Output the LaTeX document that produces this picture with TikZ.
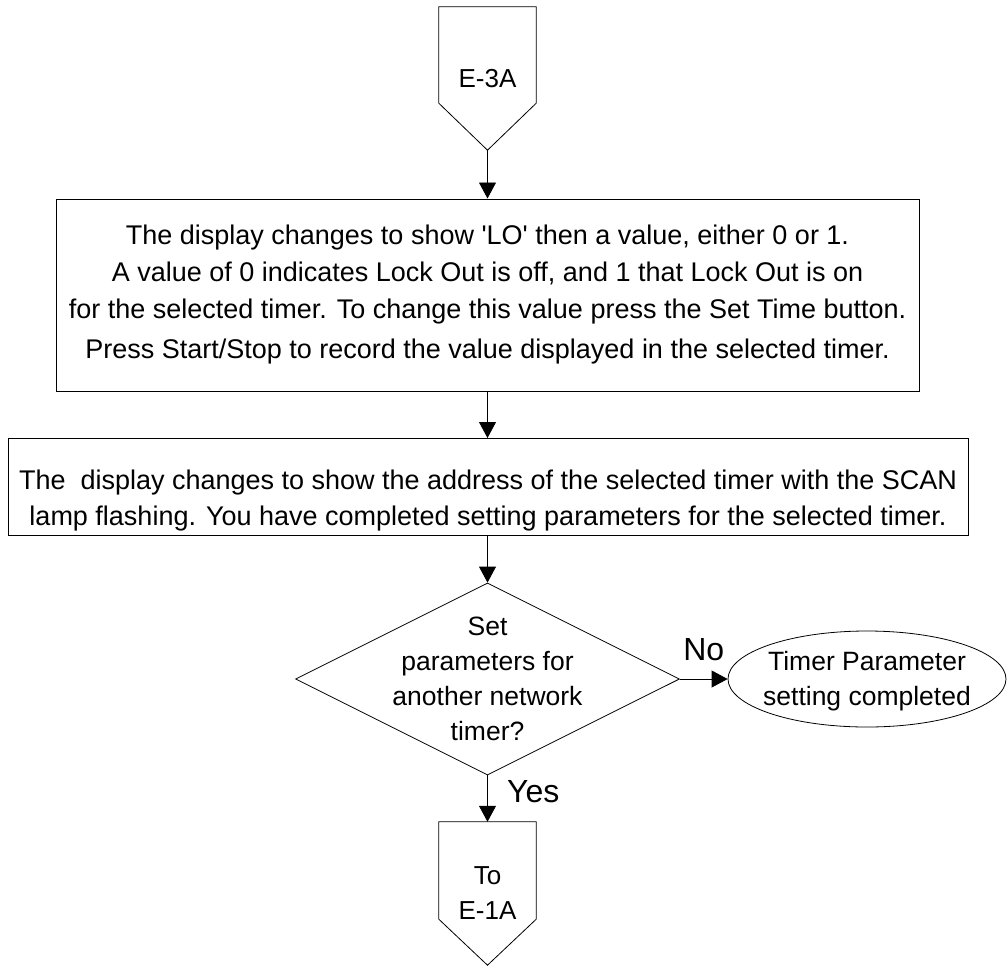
\documentclass[tikz,border=0pt]{standalone}
\usepackage{fontspec}
\setmainfont{Liberation Sans}
\usetikzlibrary{shapes.geometric,arrows.meta}

\begin{document}
\begin{tikzpicture}[x=1pt,y=-1pt,
      offpage/.style ={rectangle, inner sep=0pt, minimum width=97pt, minimum height=143pt, align=center, font=\fontsize{26}{35}\selectfont},
      process/.style ={rectangle, draw, line width=1pt, inner sep=0pt, align=center, font=\fontsize{27}{37}\selectfont},
      boxtext/.style ={align=center, font=\fontsize{27}{36}\selectfont},
      decision/.style ={diamond, draw, line width=0.8pt, inner sep=0pt, minimum width=384pt, minimum height=192pt},
      terminal/.style ={ellipse, draw, line width=0.8pt, inner sep=0pt, minimum width=278pt, minimum height=96pt},
      shapetext/.style ={align=center, font=\fontsize{26.5}{35}\selectfont},
      flow/.style ={line width=0.8pt, -{Triangle[length=16pt,width=17pt]}},
      answer/.style ={font=\fontsize{32}{32}\selectfont}]
   \useasboundingbox (0,0) rectangle (1008,966);
   \node[offpage] (in) at (487.5,78.5) {E-3A};
   \node[process, minimum width=863pt, minimum height=192pt] (lo) at (487.5,295)
      {The display changes to show \textquotesingle LO\textquotesingle\ then a value, either 0 or 1.\\
       A value of 0 indicates Lock Out is off, and 1 that Lock Out is on\\
       for the selected timer. To change this value press the Set Time button.\\[3pt]
       Press Start/Stop to record the value displayed in the selected timer.};
   \node[process, minimum width=960pt, minimum height=97pt,
      label={[boxtext, yshift=-14pt]center:The\ \ display changes to show the address of the selected timer with the SCAN\\
       lamp flashing. You have completed setting parameters for the selected timer.}] (addr) at (488,487) {};
   \node[decision, label={[shapetext]center:Set\\parameters for\\another network\\timer?}] (ask) at (487.5,679) {};
   \node[terminal, label={[shapetext, yshift=-2pt]center:Timer Parameter\\setting completed}] (done) at (867,679) {};
   \node[offpage] (out) at (487.5,893.5) {To\\E-1A};
   \draw[line width=0.8pt] (in.north west) -- (in.north east) -- ([yshift=47pt]in.south east)
      -- (in.south) -- ([yshift=47pt]in.south west) -- cycle;
   \draw[line width=0.8pt] (out.north west) -- (out.north east) -- ([yshift=46pt]out.south east)
      -- (out.south) -- ([yshift=46pt]out.south west) -- cycle;
   \draw[flow] (in.south) -- (lo.north);
   \draw[flow] (lo.south) -- (lo.south |- addr.north);
   \draw[flow] (lo.south |- addr.south) -- (ask.north);
   \draw[flow] (ask.east) -- node[answer, above=14pt] (no) {No} (done.west);
   \draw[flow] (ask.south) -- node[answer, right=16pt, pos=0.36] (yes) {Yes} (out.north);
\end{tikzpicture}
\end{document}
